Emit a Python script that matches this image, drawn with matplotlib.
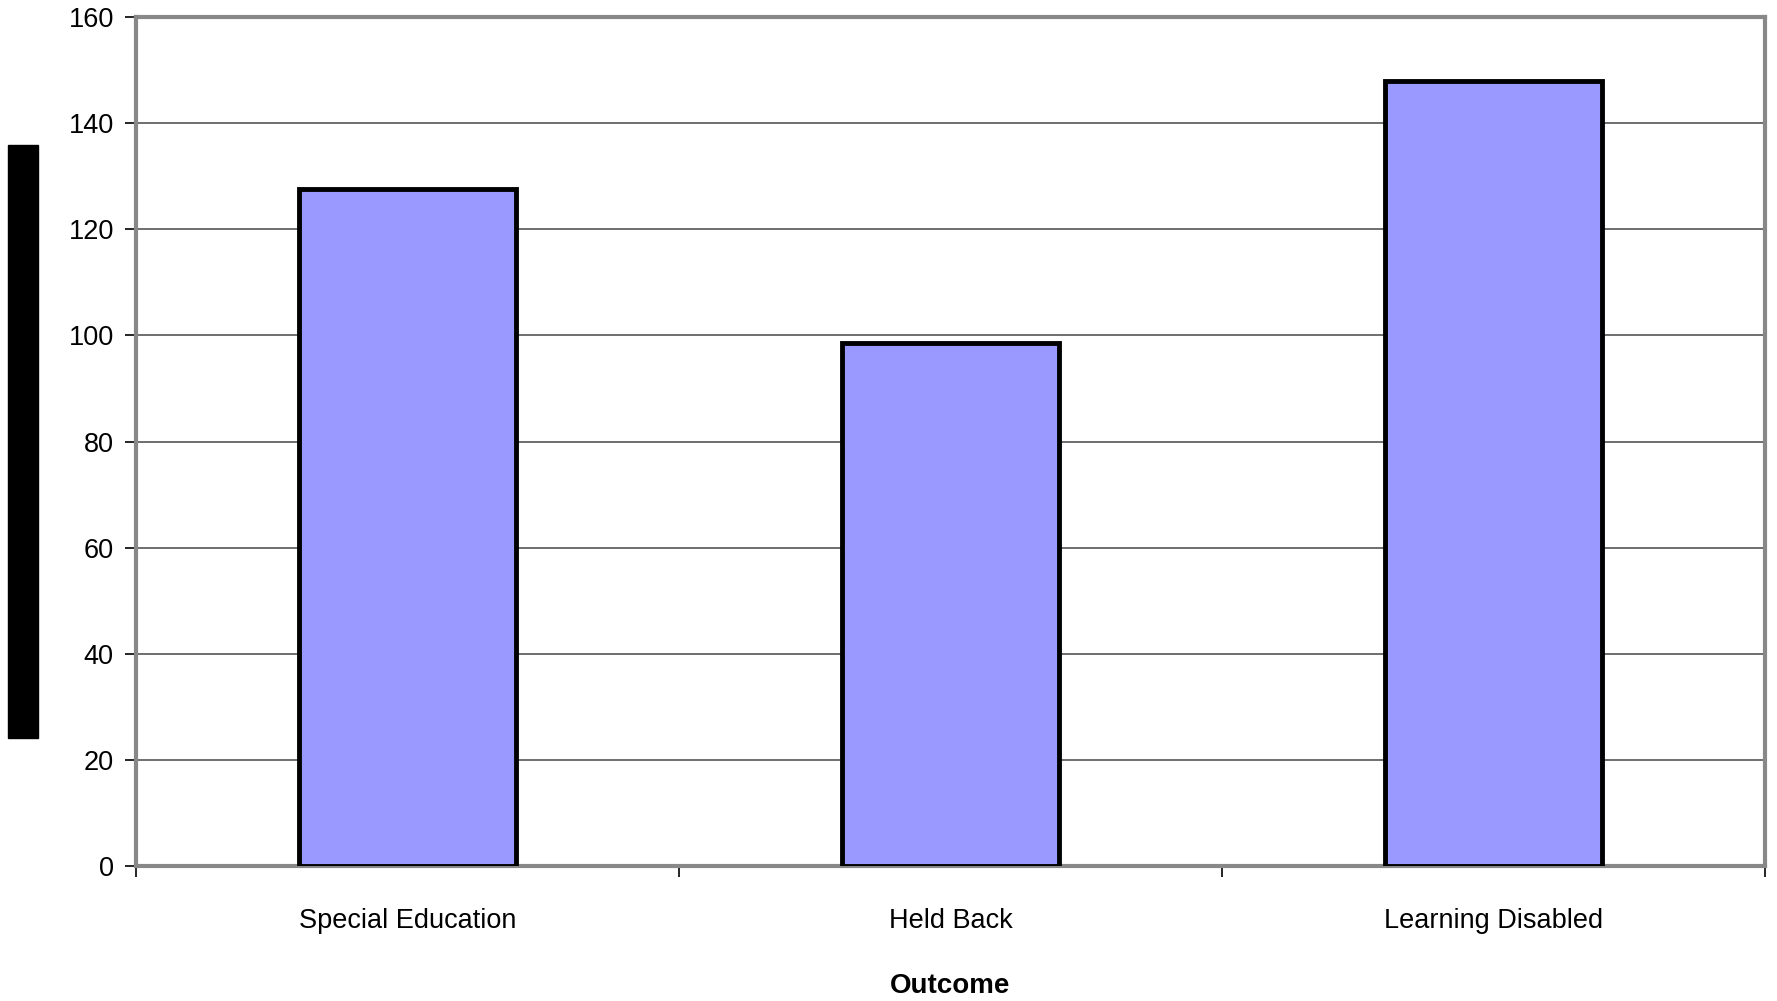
import matplotlib.pyplot as plt
from matplotlib.patches import Rectangle

categories = ['Special Education', 'Held Back', 'Learning Disabled']
values = [127.5, 98.6, 148]
yticks = [0, 20, 40, 60, 80, 100, 120, 140, 160]

plt.rcParams['font.family'] = ['Liberation Sans', 'DejaVu Sans']

fig = plt.figure(figsize=(17.77, 10.01), dpi=100)
ax = fig.add_axes([136/1777, 1 - 866/1001, (1765-136)/1777, (866-17)/1001])

x = list(range(len(categories)))
ax.bar(x, values, width=0.40, color='#9999ff', edgecolor='black', linewidth=3.5, zorder=3)

ax.set_xlim(-0.5, len(categories) - 0.5)
ax.set_ylim(0, 160)
ax.set_yticks(yticks)
ax.set_yticklabels([str(v) for v in yticks], fontsize=19.5)
ax.yaxis.grid(True, color='#555555', linewidth=1.2, zorder=0)

# category boundary ticks on x axis
ax.set_xticks([-0.5, 0.5, 1.5, 2.5])
ax.set_xticklabels([])
ax.set_xticks(x, minor=True)
ax.set_xticklabels(categories, minor=True, fontsize=19.5)
ax.tick_params(axis='x', which='minor', length=0, pad=30)
ax.tick_params(axis='x', which='major', length=8, width=1.2, color='black', direction='out')
ax.tick_params(axis='y', length=8, width=1.2, color='black', direction='out', pad=8)

for s in ax.spines.values():
    s.set_color('#888888')
    s.set_linewidth(3)

ax.set_xlabel('Outcome', fontsize=20, fontweight='bold', labelpad=28)

# obscured y label box
fig.patches.append(Rectangle((8/1777, 1 - 738/1001), 30/1777, (738-145)/1001,
                             transform=fig.transFigure, color='black', figure=fig))

fig.savefig('out.png', dpi=100)
